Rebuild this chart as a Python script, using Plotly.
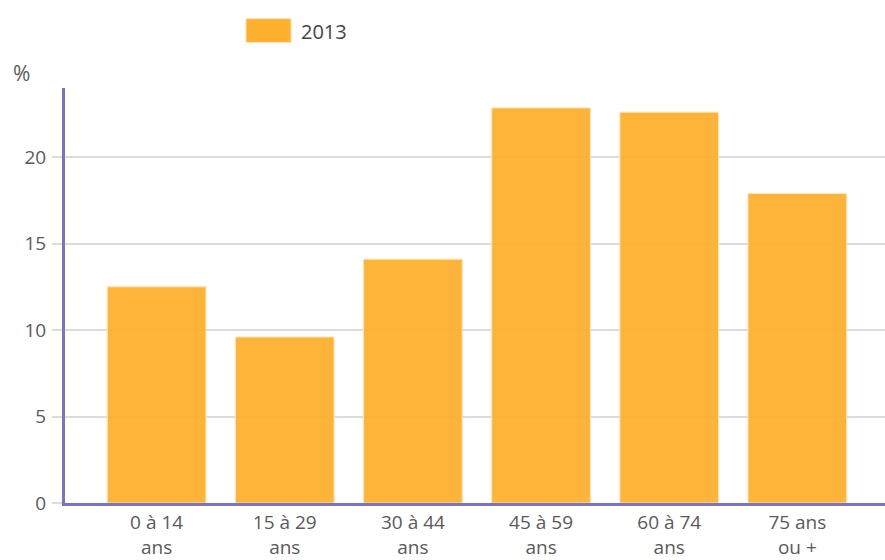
import plotly.graph_objects as go

categories = ["0 à 14<br>ans", "15 à 29<br>ans", "30 à 44<br>ans", "45 à 59<br>ans", "60 à 74<br>ans", "75 ans<br>ou +"]
values_2013 = [12.5, 9.6, 14.1, 22.85, 22.6, 17.9]
y_ticks = [0, 5, 10, 15, 20]
series_name = "2013"

bar_color = "#FDB12F"
axis_color = "#7874C0"
text_color = "#5a5a5a"
font_family = "Open Sans, DejaVu Sans, sans-serif"

# plot area target in page pixels: x 65..885, y 88..507 (body margin removed)
FW, FH = 885, 560
ML, MT, PW, PH = 65, 88, 820, 419

fig = go.Figure()
fig.add_trace(go.Bar(
    x=list(range(len(categories))),
    y=values_2013,
    name=series_name,
    width=0.77,
    marker=dict(color=bar_color, opacity=0.95, line=dict(color="#FFE3B0", width=1)),
    showlegend=False,
))

fig.update_layout(
    width=FW, height=FH,
    margin=dict(l=ML, r=FW - ML - PW, t=MT, b=FH - MT - PH),
    paper_bgcolor="white", plot_bgcolor="white",
    font=dict(family=font_family, size=19, color=text_color),
    xaxis=dict(
        range=[-0.715, 5.684],
        tickmode="array",
        tickvals=list(range(len(categories))),
        ticktext=categories,
        showgrid=False,
        showline=True, linecolor=axis_color, linewidth=3,
        ticks="", zeroline=False,
        tickfont=dict(size=19, color=text_color),
    ),
    yaxis=dict(
        range=[0, 24],
        tickmode="array",
        tickvals=y_ticks,
        ticktext=[str(v) for v in y_ticks],
        showgrid=True, gridcolor="#dcdcdc", gridwidth=2,
        showline=True, linecolor=axis_color, linewidth=3,
        ticks="outside", ticklen=10, tickcolor="#dcdcdc", tickwidth=2,
        zeroline=False,
        tickfont=dict(size=19, color=text_color),
        ticklabelstandoff=2,
    ),
)

def px_x(x):
    return (x - ML) / PW

def px_y(y):
    return 1 - (y - MT) / PH

# "%" unit label
fig.add_annotation(xref="paper", yref="paper", x=px_x(11), y=px_y(73),
                   text="%", showarrow=False, xanchor="left", yanchor="middle",
                   font=dict(size=21, color=text_color))

# legend
fig.add_shape(type="rect", xref="paper", yref="paper",
              x0=px_x(246), x1=px_x(291), y0=px_y(42), y1=px_y(18),
              fillcolor=bar_color, line=dict(color="#FFE3B0", width=1), layer="above")
fig.add_annotation(xref="paper", yref="paper", x=px_x(299), y=px_y(31),
                   text=series_name, showarrow=False, xanchor="left", yanchor="middle",
                   font=dict(size=20, color="#444"))

fig.write_html(
    "out.html",
    config={"displayModeBar": False},
    post_script="document.body.style.margin='0';document.body.style.overflow='hidden';",
)
